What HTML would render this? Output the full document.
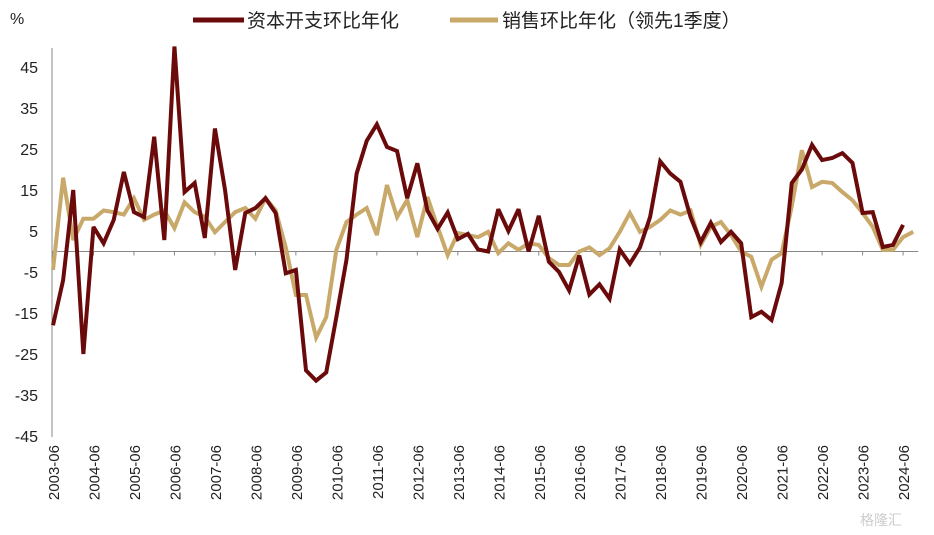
<!DOCTYPE html>
<html><head><meta charset="utf-8"><style>
body{margin:0;background:#fff;}
svg{display:block;font-family:"Liberation Sans","Noto Sans CJK SC",sans-serif;}
</style></head><body>
<svg id="chart" width="934" height="535">
<text x="10" y="24" font-size="16" fill="#222">%</text>
<g>
<line x1="193" y1="20" x2="244" y2="20" stroke="#6b0a0a" stroke-width="5"/>
<text x="247" y="27" font-size="19" fill="#222">资本开支环比年化</text>
<line x1="450" y1="20" x2="498" y2="20" stroke="#c8a96a" stroke-width="5"/>
<text x="502" y="27" font-size="19" fill="#222">销售环比年化（领先1季度）</text>
</g>
<g id="axes"></g>
<g id="series"></g>
<text x="860" y="525" font-size="14" fill="#ccc">格隆汇</text>
</svg>
<script>
const capex=[-18,-7,15,-25,6,2,7.7,19.4,9.6,8.4,28,2.8,50,14.5,16.7,3.3,30,15,-4.5,9.4,10.6,13,9.4,-5.3,-4.5,-29,-31.5,-29.5,-16,-2,19,27,31,25.5,24.5,13,21.5,10,5.5,9.5,3,4.3,0.5,0,10.3,5,10.3,0,8.7,-2.5,-5,-9.5,-1,-10.5,-8,-11.5,0.5,-3,1,8.4,22,19,17,8.4,2.3,7,2.3,4.8,2,-16,-14.7,-16.7,-7.7,16.7,20,26,22.3,22.8,24,21.6,9.4,9.6,1.1,1.6,6.5];
const sales=[-4.5,18,2.8,8,8,10,9.6,9,13,7.7,9,10,5.7,12,9.6,8.5,4.7,7.2,9.6,10.6,8,13,10,1,-10.6,-10.6,-21,-16,0.4,7.2,9,10.6,4,16.2,8.4,12.6,3.5,13.3,6,-0.9,4.5,4,3.5,4.8,-0.4,2,0.4,2,1.6,-1.6,-3.3,-3.3,0,1,-0.9,0.8,4.8,9.4,4.8,6,7.7,10,9,10,1.6,6,7.2,4,0,-1.3,-8.6,-2,-0.4,11,24.7,15.7,17,16.7,14.5,12.5,9.4,6,0.4,0.4,3.5,4.8];
const yTicks=[45,35,25,15,5,-5,-15,-25,-35,-45];
const xLabels=["2003-06","2004-06","2005-06","2006-06","2007-06","2008-06","2009-06","2010-06","2011-06","2012-06","2013-06","2014-06","2015-06","2016-06","2017-06","2018-06","2019-06","2020-06","2021-06","2022-06","2023-06","2024-06"];
const NS="http://www.w3.org/2000/svg";
const x0=53,step=10.12;
const X=i=>x0+i*step;
const Y=v=>251.5-v*4.1;
const ax=document.getElementById('axes'),se=document.getElementById('series');
function mk(tag,attrs,parent){const e=document.createElementNS(NS,tag);for(const k in attrs)e.setAttribute(k,attrs[k]);parent.appendChild(e);return e;}
const yl=mk('line',{x1:52,y1:48,x2:52,y2:437,stroke:'#888','stroke-width':1},ax);


const zl=mk('line',{x1:52,y1:Y(0),x2:X(85.5),y2:Y(0),stroke:'#888','stroke-width':1},ax);


yTicks.forEach(v=>{const t=mk('text',{x:38,y:Y(v)+6,'font-size':16,'text-anchor':'end',fill:'#222'},ax);t.textContent=v;

});
xLabels.forEach((l,k)=>{const x=X(k*4);
const tk=mk('line',{x1:x,y1:Y(0),x2:x,y2:Y(0)+4,stroke:'#888'},ax);


const t=mk('text',{x:0,y:0,'font-size':15,'text-anchor':'end',fill:'#222',transform:`translate(${x+6},445) rotate(-90)`},ax);t.textContent=l;

});
function line(arr,color,name){const p=mk('polyline',{points:arr.map((v,i)=>X(i)+','+Y(v)).join(' '),fill:'none',stroke:color,'stroke-width':4,'stroke-linejoin':'miter','stroke-miterlimit':3},se);

}
line(sales,'#c8a96a','sales-line');
line(capex,'#6b0a0a','capex-line');
</script>
</body></html>
